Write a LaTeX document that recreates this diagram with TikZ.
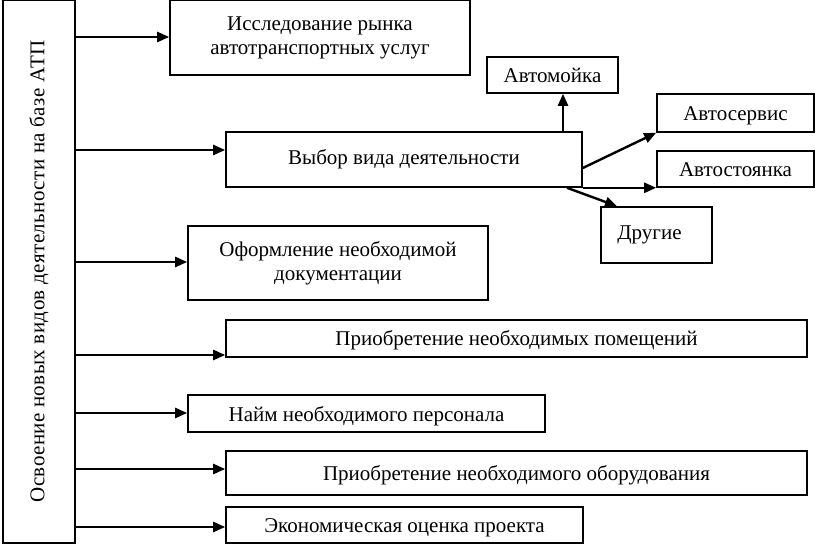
\documentclass[tikz,border=0pt]{standalone}
\usepackage{fontspec}
\setmainfont{Liberation Serif}
\usetikzlibrary{arrows.meta}
\begin{document}
\begin{tikzpicture}[x=1pt,y=-1pt,
		every node/.style={draw,line width=1.6pt,inner sep=0pt,align=center,font=\fontsize{21}{24}\selectfont},
		one/.style={text height=19pt,text depth=4pt},
		arr/.style={line width=2.4pt,-{Triangle[length=12pt,width=10pt]}}]
		\useasboundingbox (0,0) rectangle (817,545);

		\node[minimum width=72,minimum height=543] (main) at (39,271.5) {\rotatebox{90}{\addfontfeature{LetterSpace=2}Освоение новых видов деятельности на базе АТП}};

		\node[minimum width=300,minimum height=75] (rynok) at (320,37.5) {Исследование рынка\\автотранспортных услуг};
		\node[minimum width=356,minimum height=55] (vybor) at (404,159.5) {\raisebox{5pt}{Выбор вида деятельности}};
		\node[minimum width=300,minimum height=74] (doc) at (338,263) {Оформление необходимой\\документации};
		\node[one,minimum width=581,minimum height=37] (pomesh) at (516.5,338.5) {Приобретение необходимых помещений};
		\node[one,minimum width=357,minimum height=37] (naim) at (366.5,413.5) {Найм необходимого персонала};
		\node[one,minimum width=581,minimum height=44] (oborud) at (516.5,473) {Приобретение необходимого оборудования};
		\node[one,minimum width=357,minimum height=36] (ocenka) at (404.5,525) {Экономическая оценка проекта};

		\node[one,minimum width=131,minimum height=36] (moika) at (552.5,75) {Автомойка};
		\node[one,minimum width=157,minimum height=38] (servis) at (735.5,113) {Автосервис};
		\node[one,minimum width=157,minimum height=36] (stoyanka) at (735.5,169) {Автостоянка};
		\node[minimum width=111,minimum height=56] (drugie) at (656.5,235) {Другие\hspace*{14pt}};

		\foreach \n/\y in {rynok/37,vybor/150,doc/262,pomesh/355,naim/413,oborud/469,ocenka/527} {
				\draw[arr] (main.east |- 0,\y) -- (\n.west |- 0,\y);
			}

		\draw[arr] (vybor.north -| 563,0) -- (moika.south -| 563,0);
		\draw[arr] (vybor.east |- 0,168) -- (servis.south west);
		\draw[arr] (vybor.south east) -- (stoyanka.south west);
		\draw[arr] (vybor.south -| 567,0) -- (drugie.north -| 617,0);
	\end{tikzpicture}
\end{document}
